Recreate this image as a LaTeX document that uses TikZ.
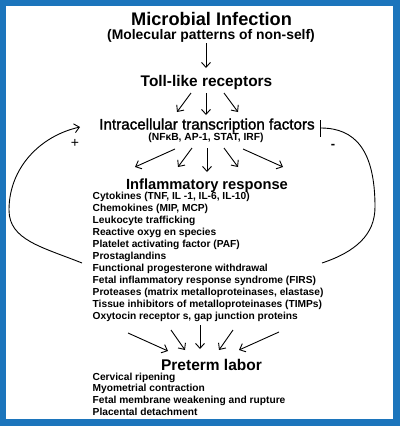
\documentclass[tikz,border=0pt]{standalone}
\usepackage{fontspec}
\setmainfont{Liberation Sans}
\newfontfamily\medfont[FakeBold=1.6]{Liberation Sans}
\usetikzlibrary{arrows.meta}
\definecolor{frameblue}{HTML}{1C75BC}
\tikzset{
  txt/.style={inner sep=0pt, anchor=base, font=\bfseries\fontsize{#1}{#1}\selectfont},
  txtmed/.style={inner sep=0pt, anchor=base, font=\medfont\fontsize{#1}{#1}\selectfont},
  item/.style={inner sep=0pt, anchor=base west, font=\bfseries\fontsize{10.2}{12}\selectfont},
  arr/.style={line width=0.9pt, -{Straight Barb[length=5pt,width=9pt,line width=0.9pt]}},
  loop/.style={line width=0.9pt},
}
\begin{document}
\begin{tikzpicture}[x=1pt,y=-1pt]
\useasboundingbox (0,0) rectangle (400,426);
\fill[frameblue] (0,0) rectangle (400,426);
\fill[white] (6,6) rectangle (393,419);

% titles
\node[txt=18.2] (mi) at (211.5,25.5) {Microbial Infection};
\node[txt=13.9] (mp) at (211,39) {(Molecular patterns of non-self)};
\node[txt=15.4] (tlr) at (206.5,86) {Toll-like receptors};
\node[txtmed=15.2] (itf) at (207,129.5) {Intracellular transcription factors};
\node[txt=10.3] (nf) at (206,140) {(NF\char"03BA B, AP-1, STAT, IRF)};
\node[txt=14.7] (ir) at (207,189.5) {Inflammatory response};
\node[txt=15.5] (pl) at (211.5,370) {Preterm labor};

% inflammatory list
\foreach \t [count=\i from 0] in {
  {Cytokines (TNF, IL -1, IL-6, IL-10)},
  {Chemokines (MIP, MCP)},
  {Leukocyte trafficking},
  {Reactive oxyg en species},
  {Platelet activating factor (PAF)},
  {Prostaglandins},
  {Functional progesterone withdrawal},
  {Fetal inflammatory response syndrome (FIRS)},
  {Proteases (matrix metalloproteinases, elastase)},
  {Tissue inhibitors of metalloproteinases (TIMPs)},
  {Oxytocin receptor s, gap junction proteins}}
  \node[item] (l\i) at (92.5,{199.5+12*\i}) {\t};

% preterm list
\foreach \t [count=\i from 0] in {
  {Cervical ripening},
  {Myometrial contraction},
  {Fetal membrane weakening and rupture},
  {Placental detachment}}
  \node[item] (p\i) at (92.5,{380+11.7*\i}) {\t};

% arrow coordinates
\coordinate (a0s) at (206,43); \coordinate (a0e) at (206,68);
\coordinate (b1s) at (191,93); \coordinate (b1e) at (177,112);
\coordinate (b2s) at (206,93); \coordinate (b2e) at (206,115);
\coordinate (b3s) at (224,93); \coordinate (b3e) at (238,112);
\coordinate (c1s) at (175,149); \coordinate (c1e) at (135,167);
\coordinate (c2s) at (192,148); \coordinate (c2e) at (178,167);
\coordinate (c3s) at (207,148); \coordinate (c3e) at (207,172);
\coordinate (c4s) at (224,148); \coordinate (c4e) at (238,167);
\coordinate (c5s) at (243,149); \coordinate (c5e) at (283,167);
\coordinate (d1s) at (128,333); \coordinate (d1e) at (168,351);
\coordinate (d2s) at (171,330); \coordinate (d2e) at (185,350);
\coordinate (d3s) at (200,325); \coordinate (d3e) at (200,349);
\coordinate (d4s) at (233,330); \coordinate (d4e) at (219,350);
\coordinate (d5s) at (279,332); \coordinate (d5e) at (239,350);

\foreach \s in {a0,b1,b2,b3,c1,c2,c3,c4,c5,d1,d2,d3,d4,d5}
  \draw[arr] (\s s) -- (\s e);

% feedback loops
\coordinate (lb) at (82,263); \coordinate (ll) at (9,210); \coordinate (lt) at (80,127);
\draw[loop, -{Straight Barb[length=5pt,width=9pt,line width=0.9pt]}]
  (lb) .. controls (42,247) and (9,240) .. (ll)
       .. controls (9,168) and (40,136) .. (lt);
\coordinate (rb) at (322,263); \coordinate (rr) at (375,207); \coordinate (rt) at (320,128);
\draw[loop, -{Bar[width=17pt,line width=0.9pt]}]
  (rb) .. controls (355,252) and (375,235) .. (rr)
       .. controls (375,150) and (355,128) .. (rt);

\node[inner sep=0pt, font=\fontsize{14}{14}\selectfont] (plus) at (75,143) {+};
\node[inner sep=0pt, font=\bfseries\fontsize{13}{13}\selectfont] (minus) at (333,146) {-};
\end{tikzpicture}
\end{document}
